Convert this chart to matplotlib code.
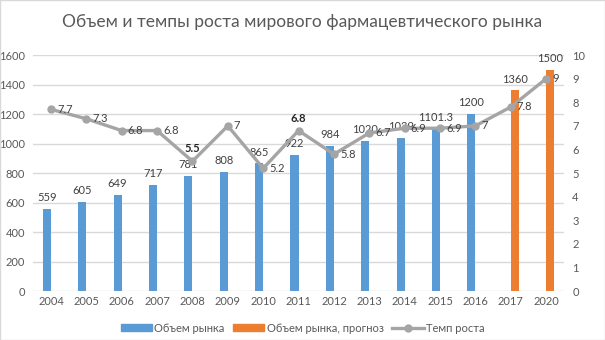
import matplotlib
matplotlib.use('Agg')
import matplotlib.pyplot as plt
from matplotlib.patches import Rectangle
import numpy as np

years = ["2004", "2005", "2006", "2007", "2008", "2009", "2010", "2011",
         "2012", "2013", "2014", "2015", "2016", "2017", "2020"]
market = [559, 605, 649, 717, 781, 808, 865, 922, 984, 1020, 1039, 1101.3, 1200,
          None, None]
forecast = [None] * 13 + [1360, 1500]
growth = [7.7, 7.3, 6.8, 6.8, 5.5, 7, 5.2, 6.8, 5.8, 6.7, 6.9, 6.9, 7, 7.8, 9]
# growth labels drawn above the point instead of to the right
above = {4, 7}

blue = '#5B9BD5'
orange = '#ED7D31'
gray = '#A5A5A5'
txt = '#595959'

plt.rcParams['font.family'] = ['Lato', 'DejaVu Sans']

fig = plt.figure(figsize=(6.05, 3.4), dpi=100)
fig.patches.append(Rectangle((0, 0), 1, 1, transform=fig.transFigure,
                             fill=False, edgecolor='#D9D9D9', lw=1))
ax = fig.add_axes([0.055, 0.144, 0.877, 0.694])
ax2 = ax.twinx()

x = np.arange(len(years))
w = 0.23


def fmt(v):
    return ('%g' % v)


for i, v in enumerate(market):
    if v is None:
        continue
    ax.bar(x[i] - w / 2, v, w, color=blue, zorder=2)
    ax.text(x[i] - w / 2, v + 40, fmt(v), ha='center', va='bottom',
            fontsize=8, color='#404040')
for i, v in enumerate(forecast):
    if v is None:
        continue
    ax.bar(x[i] + w / 2, v, w, color=orange, zorder=2)
    ax.text(x[i] + w / 2, v + 40, fmt(v), ha='center', va='bottom',
            fontsize=8, color='#404040')

ax2.plot(x, growth, color=gray, lw=2.4, marker='o', ms=5, zorder=3)
for i, v in enumerate(growth):
    if i in above:
        ax2.text(x[i], v + 0.3, fmt(v), ha='center', va='bottom',
                 fontsize=8, color='#262626', fontweight='bold')
    else:
        ax2.text(x[i] + 0.17, v, fmt(v), ha='left', va='center',
                 fontsize=8, color='#404040')

ax.set_xlim(-0.5, len(years) - 0.5)
ax.set_ylim(0, 1600)
ax.set_yticks(range(0, 1601, 200))
ax2.set_ylim(0, 10)
ax2.set_yticks(range(0, 11))
ax.set_xticks(x)
ax.set_xticklabels(years)
ax.yaxis.grid(True, color='#D9D9D9', lw=1, zorder=0)
ax.set_axisbelow(True)

for a in (ax, ax2):
    for s in a.spines.values():
        s.set_visible(False)
    a.tick_params(length=0, labelsize=8, colors=txt)
ax.tick_params(axis='y', pad=6)
ax2.tick_params(axis='y', pad=6)

fig.text(0.5, 0.935, 'Объем и темпы роста мирового фармацевтического рынка',
         ha='center', va='center', fontsize=12.5, color=txt)

h1 = Rectangle((0, 0), 1, 1, color=blue)
h2 = Rectangle((0, 0), 1, 1, color=orange)
h3 = plt.Line2D([], [], color=gray, lw=2.4, marker='o', ms=5)
leg = fig.legend([h1, h2, h3], ['Объем рынка', 'Объем рынка, прогноз', 'Темп роста'],
                 loc='center', bbox_to_anchor=(0.5, 0.035), ncol=3, frameon=False,
                 fontsize=8, handlelength=2.8, handleheight=0.6, columnspacing=0.8,
                 handletextpad=0.2)
for t in leg.get_texts():
    t.set_color(txt)

fig.savefig('out.png', dpi=100)
